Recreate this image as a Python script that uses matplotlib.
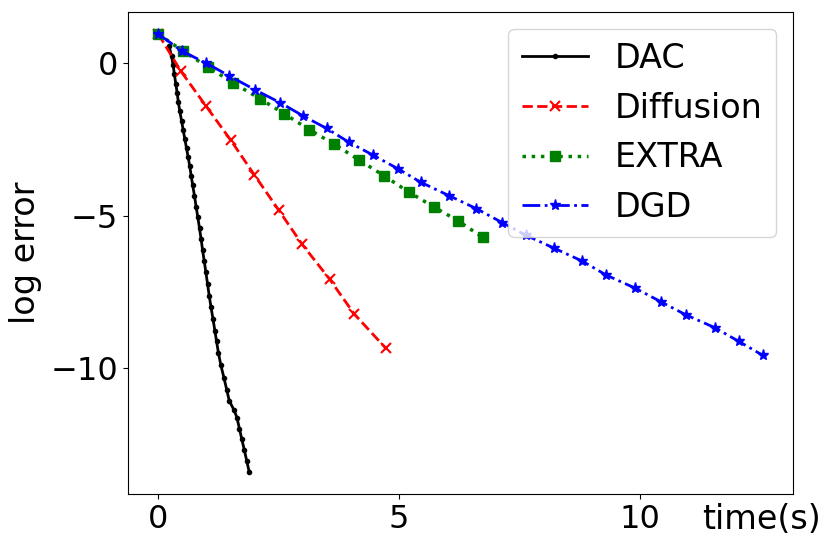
import matplotlib
matplotlib.use("Agg")
import matplotlib.pyplot as plt

# DAC
dac_t = [0.229, 0.277, 0.310, 0.335, 0.366, 0.393, 0.418, 0.447, 0.484, 0.518,
         0.551, 0.588, 0.622, 0.655, 0.686, 0.715, 0.753, 0.788, 0.823, 0.859,
         0.892, 0.923, 0.956, 0.990, 1.025, 1.060, 1.096, 1.137, 1.177, 1.212,
         1.252, 1.301, 1.366, 1.424, 1.476, 1.570, 1.636, 1.686, 1.738, 1.790,
         1.840, 1.892]
dac_err = [0.55, 0.23, -0.06, -0.36, -0.68, -0.97, -1.27, -1.56, -1.88, -2.18,
           -2.47, -2.79, -3.08, -3.38, -3.70, -3.99, -4.35, -4.71, -5.06, -5.42,
           -5.78, -6.14, -6.49, -6.85, -7.24, -7.63, -7.99, -8.38, -8.77, -9.12,
           -9.51, -9.90, -10.32, -10.71, -11.07, -11.36, -11.62, -11.98, -12.34, -12.69,
           -13.05, -13.41]

# Diffusion
dif_t = [0.0, 0.47, 0.99, 1.51, 2.00, 2.50, 2.99, 3.56, 4.07, 4.73]
dif_err = [0.96, -0.26, -1.40, -2.53, -3.67, -4.81, -5.94, -7.08, -8.22, -9.35]

# EXTRA
ext_t = [0.0, 0.52, 1.04, 1.56, 2.12, 2.62, 3.14, 3.66, 4.18, 4.70, 5.20, 5.72, 6.22, 6.74]
ext_err = [0.96, 0.39, -0.13, -0.65, -1.17, -1.66, -2.18, -2.66, -3.18, -3.70, -4.22, -4.71, -5.16, -5.71]

# DGD
dgd_t = [0.0, 0.50, 1.00, 1.48, 2.02, 2.54, 3.00, 3.50, 3.97, 4.47, 4.99, 5.45, 6.05,
         6.61, 7.15, 7.65, 8.23, 8.81, 9.31, 9.90, 10.44, 10.96, 11.56, 12.06, 12.56]
dgd_err = [0.96, 0.39, 0.0, -0.42, -0.88, -1.30, -1.72, -2.14, -2.60, -3.02, -3.47, -3.90,
           -4.35, -4.77, -5.23, -5.65, -6.07, -6.49, -6.95, -7.37, -7.82, -8.25, -8.67,
           -9.12, -9.58]

plt.rcParams['font.family'] = ['DejaVu Sans']
fig = plt.figure(figsize=(8.3, 5.51), dpi=100)
ax = fig.add_axes([0.1542, 0.1034, 0.8012, 0.8748])

ax.plot(dac_t, dac_err, 'k.-', lw=2, ms=6, label='DAC')
ax.plot(dif_t, dif_err, 'rx--', lw=2, ms=7, mew=1.5, label='Diffusion')
ax.plot(ext_t, ext_err, 'gs:', lw=2.5, ms=7, label='EXTRA')
ax.plot(dgd_t, dgd_err, 'b*-.', lw=2, ms=8, label='DGD')

ax.set_xticks([0, 5, 10])
ax.set_yticks([0, -5, -10])
ax.tick_params(labelsize=23)
ax.set_ylabel('log error', fontsize=24, labelpad=6)
ax.set_xlabel('time(s)', fontsize=24)
ax.xaxis.set_label_coords(0.953, -0.018)
ax.legend(loc='upper right', fontsize=24)

fig.savefig('out.png', dpi=100)
